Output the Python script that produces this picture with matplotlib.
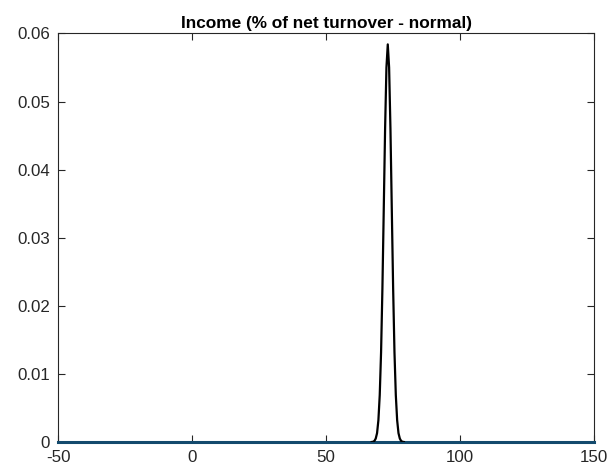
import numpy as np
import matplotlib
matplotlib.use("Agg")
import matplotlib.pyplot as plt
from matplotlib.ticker import FuncFormatter

plt.rcParams['font.family'] = ['Liberation Sans', 'DejaVu Sans']
plt.rcParams['axes.unicode_minus'] = False

# density curve
curve_x = [67.0, 67.5, 68.0, 68.5, 69.0, 69.5, 70.0, 70.5, 71.0, 71.5, 72.0, 72.5,
           73.0, 73.5, 74.0, 74.5, 75.0, 75.5, 76.0, 76.5, 77.0, 77.5, 78.0, 78.5, 79.0]
curve_y = [0.0, 0.00003, 0.00015, 0.0005, 0.0013, 0.0032, 0.0069, 0.0132, 0.0226,
           0.0342, 0.0460, 0.0550, 0.0584, 0.0550, 0.0460, 0.0342, 0.0226, 0.0132,
           0.0069, 0.0032, 0.0013, 0.0005, 0.00015, 0.00003, 0.0]

# flat series along zero
base_x = [-50, 150]
base_y = [0, 0]

x_ticks = [-50, 0, 50, 100, 150]
y_ticks = [0, 0.01, 0.02, 0.03, 0.04, 0.05, 0.06]

fig = plt.figure(figsize=(6.1, 4.71), dpi=100)
ax = fig.add_axes([0.0956, 0.0616, 0.8782, 0.8673])

ax.plot(base_x, base_y, color="#134a6d", linewidth=2.2, clip_on=False, zorder=3)
ax.plot(curve_x, curve_y, color="black", linewidth=1.6, zorder=4)

ax.set_xlim(-50, 150)
ax.set_ylim(0, 0.06)
ax.set_xticks(x_ticks)
ax.set_yticks(y_ticks)
ax.yaxis.set_major_formatter(FuncFormatter(lambda v, p: "{:g}".format(round(v, 4))))
ax.tick_params(direction="in", length=5, width=0.8, labelsize=12.2, pad=6,
               top=True, right=True, colors="#262626")
for s in ax.spines.values():
    s.set_linewidth(0.8)
    s.set_color("#262626")

ax.set_title("Income (% of net turnover - normal)", fontsize=12.4, fontweight="bold", pad=4)

fig.savefig("out.png", dpi=100)
